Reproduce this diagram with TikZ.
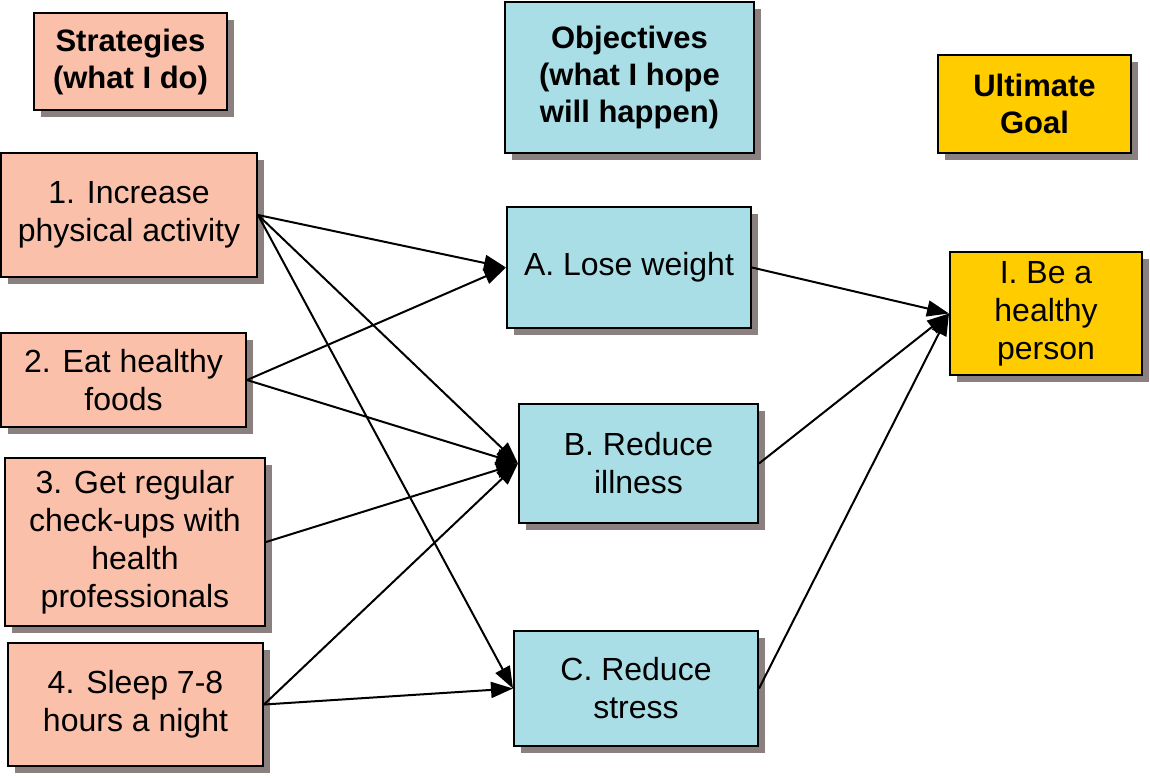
\documentclass[tikz,border=0pt]{standalone}
\usepackage{fontspec}
\setmainfont{Liberation Sans}
\usetikzlibrary{arrows.meta,shadows}
\definecolor{strat}{RGB}{250,192,170}
\definecolor{objct}{RGB}{170,222,230}
\definecolor{goal}{RGB}{255,204,0}
\definecolor{shade}{RGB}{138,128,128}
\begin{document}
\begin{tikzpicture}[x=1pt,y=-1pt,
    box/.style={draw=black,line width=2pt,align=center,inner sep=0pt,
      font=\fontsize{32}{38}\selectfont,
      drop shadow={shadow xshift=7pt,shadow yshift=-7pt,fill=shade,opacity=1}},
    head/.style={box,font=\fontsize{31}{37}\selectfont\bfseries},
    link/.style={line width=2pt,-{Triangle[length=22pt,width=16pt]}}]
  \useasboundingbox (0,0) rectangle (1150,777);
  \node[head,fill=strat,minimum width=193pt,minimum height=97pt] (HS) at (130.5,61.5) {Strategies\\(what I do)};
  \node[head,fill=objct,minimum width=249pt,minimum height=151pt] (HO) at (629.5,77.5) {Objectives\\(what I hope\\will happen)};
  \node[head,fill=goal,minimum width=193pt,minimum height=98pt] (HG) at (1034.5,104) {Ultimate\\Goal};
  \node[box,fill=strat,minimum width=256pt,minimum height=124pt] (S1) at (129,215) {1. Increase\\physical activity};
  \node[box,fill=strat,minimum width=245pt,minimum height=94pt] (S2) at (123.5,380) {2. Eat healthy\\foods};
  \node[box,fill=strat,minimum width=260pt,minimum height=168pt] (S3) at (135,542) {3. Get regular\\check-ups with\\health\\professionals};
  \node[box,fill=strat,minimum width=255pt,minimum height=123pt] (S4) at (135.5,704.5) {4. Sleep 7-8\\hours a night};
  \node[box,fill=objct,minimum width=244pt,minimum height=121pt] (OA) at (629,267.5) {A. Lose weight};
  \node[box,fill=objct,minimum width=239pt,minimum height=119pt] (OB) at (638.5,463.5) {B. Reduce\\illness};
  \node[box,fill=objct,minimum width=244pt,minimum height=115pt] (OC) at (636,688.5) {C. Reduce\\stress};
  \node[box,fill=goal,minimum width=192pt,minimum height=123pt] (GI) at (1046,313.5) {I. Be a\\healthy\\person};
  \draw[link] (S1.east) -- (OA.west);
  \draw[link] (S1.east) -- (OB.west);
  \draw[link] (S1.east) -- (OC.west);
  \draw[link] (S2.east) -- (OA.west);
  \draw[link] (S2.east) -- (OB.west);
  \draw[link] (S3.east) -- (OB.west);
  \draw[link] (S4.east) -- (OB.west);
  \draw[link] (S4.east) -- (OC.west);
  \draw[link] (OA.east) -- (GI.west);
  \draw[link] (OB.east) -- (GI.west);
  \draw[link] (OC.east) -- (GI.west);
\end{tikzpicture}
\end{document}
